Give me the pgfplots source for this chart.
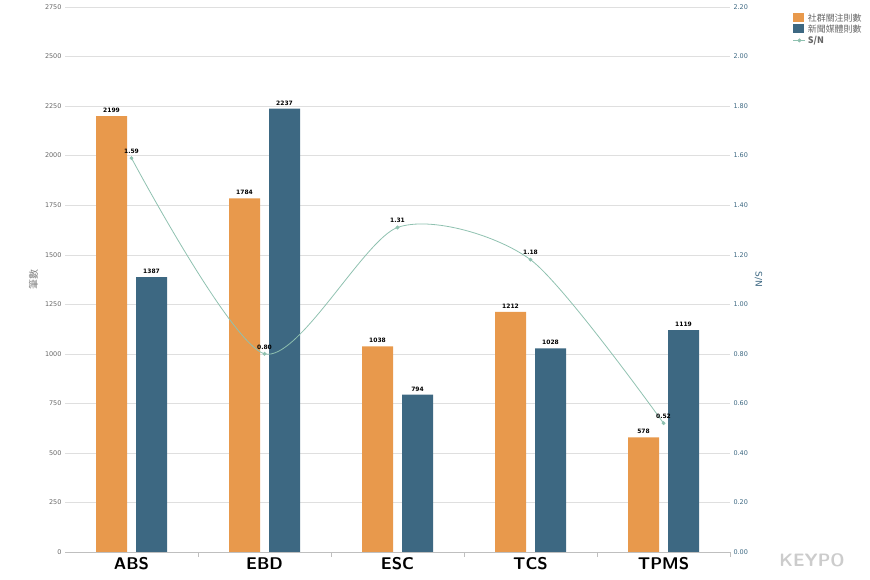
\documentclass[border=0pt]{standalone}
\usepackage{fontspec}
\setmainfont{DejaVu Sans}
\newfontfamily\cjk{Noto Sans CJK TC}
\usepackage{pgfplots}
\pgfplotsset{compat=1.18}
\definecolor{org}{HTML}{E8994C}
\definecolor{blu}{HTML}{3D6882}
\definecolor{grn}{HTML}{8FC1B0}
\definecolor{tk}{HTML}{666666}
\begin{document}
\begin{tikzpicture}[x=1bp,y=1bp]
\useasboundingbox (0,0) rectangle (870,580);
\begin{axis}[at={(65bp,28bp)},anchor=south west,scale only axis,width=665bp,height=545bp,
 xmin=-0.5,xmax=4.5,ymin=0,ymax=2750,ytick={0,250,...,2750},
 xtick={0,1,2,3,4},xticklabels={ABS,EBD,ESC,TCS,TPMS},
 xticklabel style={font=\sffamily\bfseries\fontsize{17}{17}\selectfont,yshift=2bp},
 major x tick style={draw=none},
 minor xtick={0.5,1.5,2.5,3.5,4.5},minor tick length=5bp,minor x tick style={draw=gray!50},
 /pgf/number format/.cd,set thousands separator={},assume math mode=true,/pgfplots/.cd,
 yticklabel style={font=\fontsize{6.5}{6.5}\selectfont,text=tk},
 ymajorgrids,grid style={gray!25},y tick style={draw=none},
 axis y line*=left,axis x line*=bottom,y axis line style={draw=none},x axis line style={gray!50},
 ylabel={\cjk 筆數},ylabel style={font=\fontsize{10}{10}\selectfont,text=gray},
 ybar,bar width=31bp,
 nodes near coords,nodes near coords style={font=\bfseries\fontsize{6}{6}\selectfont},
 legend style={at={(1.09,0.995)},anchor=north west,draw=none,font=\cjk\fontsize{9}{9}\selectfont,text=tk,legend cell align=left,row sep=-2bp},
 legend image code/.code={\fill[#1] (0bp,-4bp) rectangle (11bp,5bp);},
 point meta=explicit symbolic]
\addplot[fill=org,draw=none,bar shift=-20bp] coordinates {(0,2199)[2199] (1,1784)[1784] (2,1038)[1038] (3,1212)[1212] (4,578)[578]};
\addlegendentry{社群關注則數}
\addplot[fill=blu,draw=none,bar shift=20bp] coordinates {(0,1387)[1387] (1,2237)[2237] (2,794)[794] (3,1028)[1028] (4,1119)[1119]};
\addlegendentry{新聞媒體則數}
\addlegendimage{legend image code/.code={\draw[grn,thick] (0bp,0bp) -- (12bp,0bp); \fill[grn] (6bp,0bp) circle (1.8bp);}}
\addlegendentry{\bfseries S/N}
\end{axis}
\begin{axis}[at={(65bp,28bp)},anchor=south west,scale only axis,width=665bp,height=545bp,
 xmin=-0.5,xmax=4.5,ymin=0,ymax=2.2,ytick={0,0.2,...,2.2},
 axis y line*=right,axis x line=none,y axis line style={draw=none},y tick style={draw=none},
 /pgf/number format/.cd,fixed,fixed zerofill,precision=2,assume math mode=true,/pgfplots/.cd,
 yticklabel style={font=\fontsize{6.5}{6.5}\selectfont,text=blu},
 ylabel={S/N},ylabel style={font=\fontsize{9}{9}\selectfont,text=blu,rotate=180},
 nodes near coords,nodes near coords style={font=\bfseries\fontsize{6}{6}\selectfont,text=black,yshift=1bp},
 point meta=explicit symbolic]
\addplot[grn,thick,smooth,tension=0.45,mark=*,mark size=1.5bp] coordinates {(0,1.59)[1.59] (1,0.80)[0.80] (2,1.31)[1.31] (3,1.18)[1.18] (4,0.52)[0.52]};
\end{axis}
\node[text=gray!40,font=\sffamily\bfseries\fontsize{18}{18}\selectfont] at (812,20) {KEYPO};
\end{tikzpicture}
\end{document}
